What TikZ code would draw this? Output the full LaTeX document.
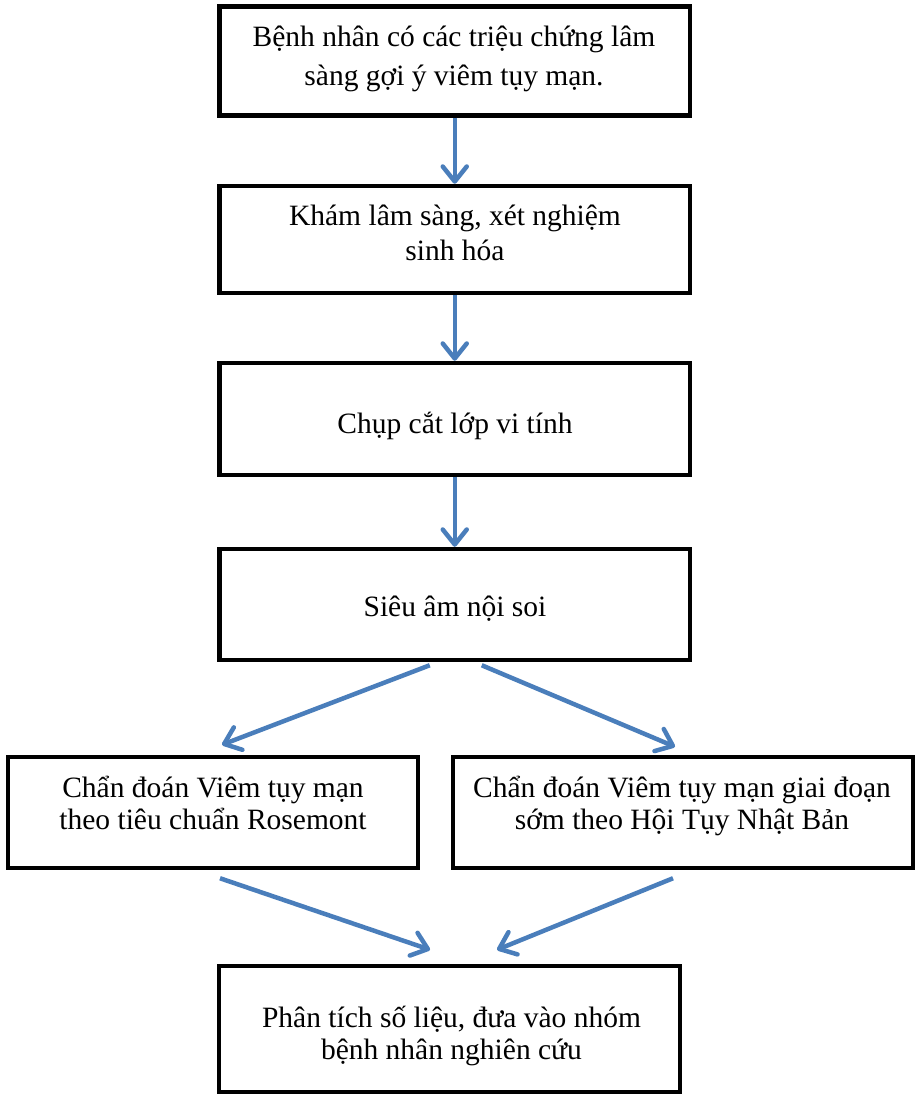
\documentclass[tikz,border=0pt]{standalone}
\usepackage{fontspec}
\setmainfont{Liberation Serif}
\usetikzlibrary{arrows.meta,calc}
\definecolor{arrowblue}{RGB}{74,126,187}
\begin{document}
\begin{tikzpicture}[x=1pt,y=-1pt,
  box/.style={draw=black,line width=4.5pt,rectangle,inner sep=0pt},
  label/.style={anchor=base,align=center,inner sep=0pt},
  flow/.style={draw=arrowblue,line width=4.5pt,
    -{Straight Barb[length=15pt,width=24pt,line cap=round,line join=round]}}]
\useasboundingbox (0,0) rectangle (916,1094);
% boxes
\node[box,minimum width=470.5pt,minimum height=109pt] (b1) at (454.75,61) {};
\node[box,minimum width=470.5pt,minimum height=107pt] (b2) at (454.75,239.5) {};
\node[box,minimum width=470.5pt,minimum height=112pt] (b3) at (454.75,419) {};
\node[box,minimum width=470.5pt,minimum height=111pt] (b4) at (454.75,604.5) {};
\node[box,minimum width=410pt,minimum height=111pt] (b5) at (213,812.5) {};
\node[box,minimum width=460pt,minimum height=111pt] (b6) at (683,812.5) {};
\node[box,minimum width=461pt,minimum height=126pt] (b7) at (449.5,1029) {};
% texts (anchor = baseline of last line)
\node[label,font=\fontsize{29.5}{39.5}\selectfont] (t1) at (454,86)
  {Bệnh nhân có các triệu chứng lâm\\sàng gợi ý viêm tụy mạn.};
\node[label,font=\fontsize{29.5}{35}\selectfont] (t2) at (455,260)
  {Khám lâm sàng, xét nghiệm\\sinh hóa};
\node[label,font=\fontsize{29.5}{35}\selectfont] (t3) at (455,433)
  {Chụp cắt lớp vi tính};
\node[label,font=\fontsize{29.5}{35}\selectfont] (t4) at (455,616)
  {Siêu âm nội soi};
\node[label,font=\fontsize{29.5}{32}\selectfont] (t5) at (213,829)
  {Chẩn đoán Viêm tụy mạn\\theo tiêu chuẩn Rosemont};
\node[label,font=\fontsize{29.5}{32}\selectfont] (t6) at (682,829)
  {Chẩn đoán Viêm tụy mạn giai đoạn\\sớm theo Hội Tụy Nhật Bản};
\node[label,font=\fontsize{29.5}{32}\selectfont] (t7) at (451.5,1059)
  {Phân tích số liệu, đưa vào nhóm\\bệnh nhân nghiên cứu};
% connectors
\draw[flow] (b1.south) -- (b2.north);
\draw[flow] (b2.south) -- (b3.north);
\draw[flow] (b3.south) -- (b4.north);
\draw[flow] ($(b4.south)+(-25,3)$) -- ($(b5.north)+(9,-10)$);
\draw[flow] ($(b4.south)+(27,3)$) -- ($(b6.north)+(-8,-8)$);
\draw[flow] ($(b5.south)+(7,8)$) -- ($(b7.north)+(-19.5,-14)$);
\draw[flow] ($(b6.south)+(-10,8)$) -- ($(b7.north)+(47.5,-14)$);
\end{tikzpicture}
\end{document}
